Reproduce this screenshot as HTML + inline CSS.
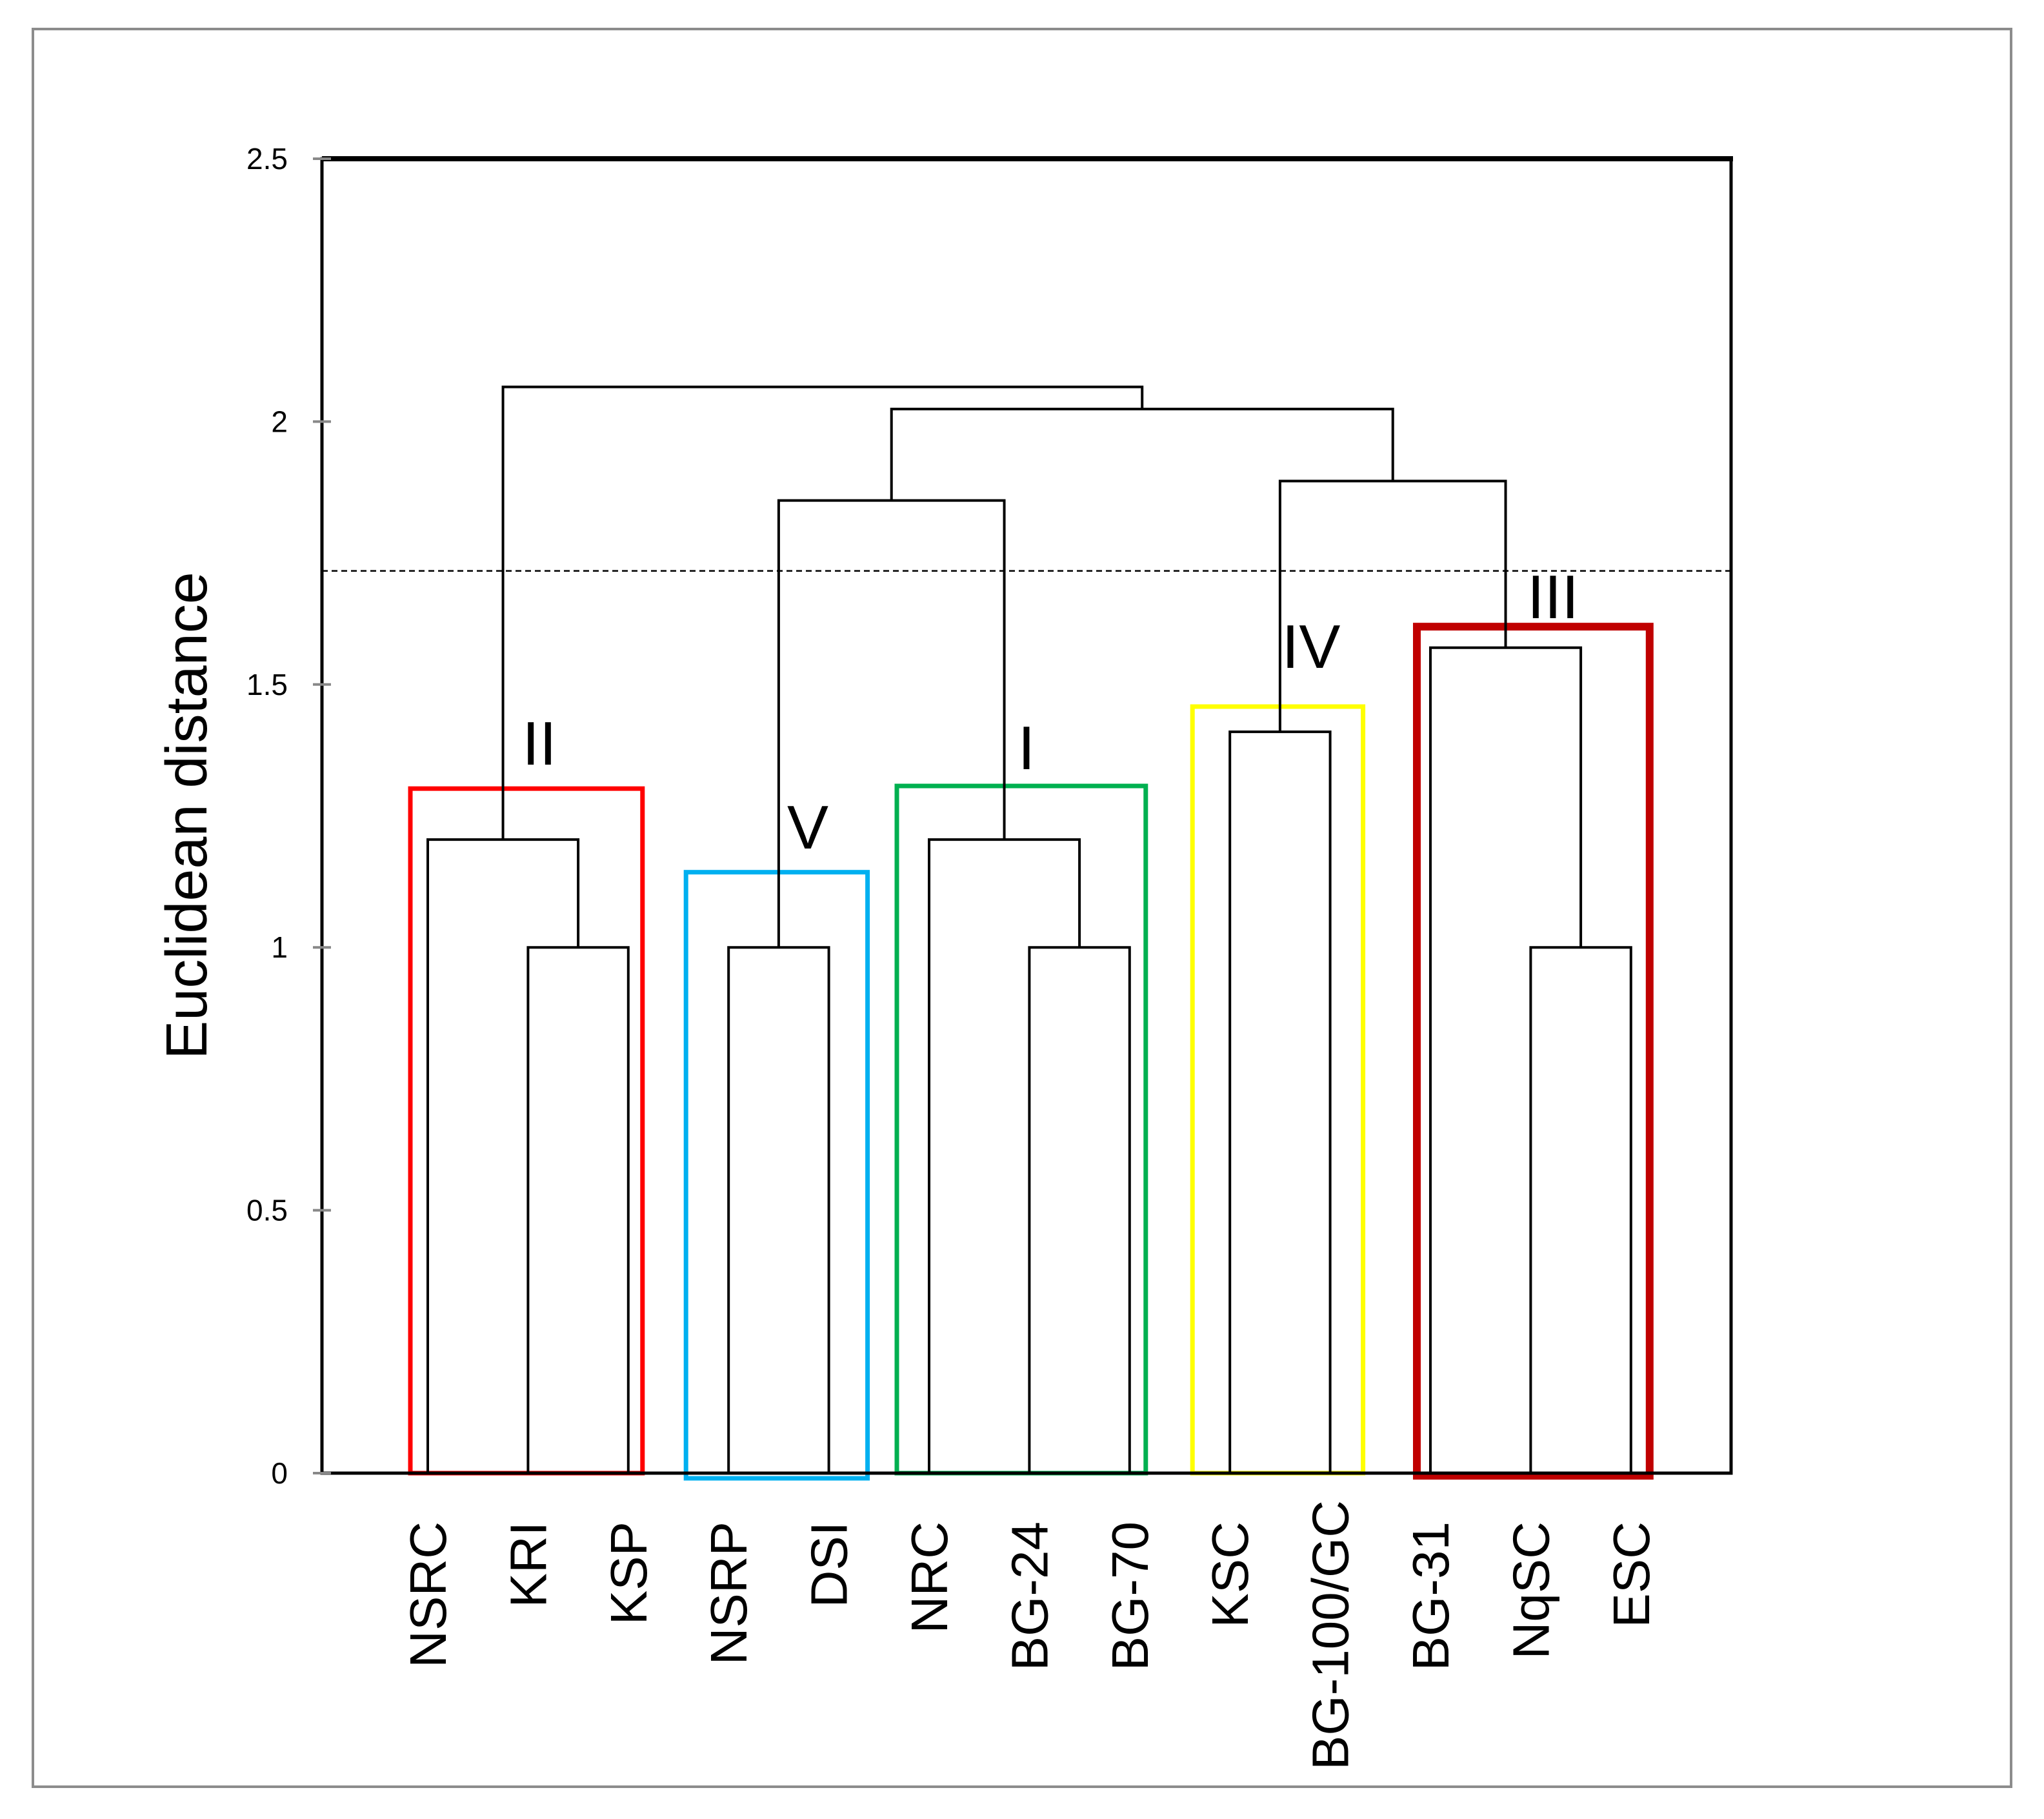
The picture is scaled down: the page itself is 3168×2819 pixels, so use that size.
<!DOCTYPE html>
<html><head><meta charset="utf-8"><style>
html,body{margin:0;padding:0;background:#fff;}
svg{display:block;font-family:"Liberation Sans",sans-serif;}
</style></head><body>
<svg id="chart" width="3168" height="2819" viewBox="0 0 3168 2819">
<rect x="51" y="45" width="3066" height="2724" fill="none" stroke="#8c8c8c" stroke-width="4"/>
<g id="boxes"></g>
<g id="links"></g>
<g id="axes"></g>
<g id="labels"></g>
</svg>
<script>
const leafNames = ["NSRC","KRI","KSP","NSRP","DSI","NRC","BG-24","BG-70","KSC","BG-100/GC","BG-31","NqSC","ESC"];
const mergeLeft = ["L1","L0","L3","L6","L5","L8","L11","L10","C2","C5","C8","C1"];
const mergeRight = ["L2","C0","L4","L7","C3","L9","L12","C6","C4","C7","C9","C10"];
const mergeHeights = [1.0,1.205,1.0,1.0,1.205,1.41,1.0,1.57,1.85,1.887,2.024,2.066];
const yTicks = [0,0.5,1,1.5,2,2.5];
const yTickLabels = ["0","0.5","1","1.5","2","2.5"];
const cutHeight = 1.716;
const groupNames = ["II","V","I","IV","III"];
const groupFirstLeaf = [0,3,5,8,10];
const groupLastLeaf = [2,4,7,9,12];
const groupTop = [1.302,1.143,1.307,1.458,1.61];
const groupColors = ["#ff0000","#00b0f0","#00b050","#ffff00","#c00000"];

const NS="http://www.w3.org/2000/svg";
const X0=499,X1=2683,YT=246,YB=2283,VMAX=2.5;
function y(v){return YB-(v/VMAX)*(YB-YT);}
function x(i){return 663+i*155.4;}
function mk(tag,attrs,parent){const e=document.createElementNS(NS,tag);for(const k in attrs)e.setAttribute(k,attrs[k]);parent.appendChild(e);return e;}
const gB=document.getElementById('boxes'),gL=document.getElementById('links'),gA=document.getElementById('axes'),gT=document.getElementById('labels');

let fr=mk('rect',{x:X0,y:YT,width:X1-X0,height:YB-YT,fill:'none',stroke:'#000','stroke-width':5},gA);


let ft=mk('line',{x1:X0,x2:X1+3,y1:YT,y2:YT,stroke:'#000','stroke-width':8},gA);


yTicks.forEach((t,i)=>{
  const tk=mk('line',{x1:X0-14,x2:X0+14,y1:y(t),y2:y(t),stroke:'#888','stroke-width':4},gA);
  
  
  const tl=mk('text',{x:446,y:y(t)+16,'text-anchor':'end','font-size':46,fill:'#000'},gA);
  tl.textContent=yTickLabels[i];
  
  
});
const yt=mk('text',{x:0,y:0,'text-anchor':'middle','font-size':90,fill:'#000',transform:'translate(320,1264) rotate(-90)'},gA);
yt.textContent='Euclidean distance';



const cl=mk('line',{x1:X0,x2:X1,y1:y(cutHeight),y2:y(cutHeight),stroke:'#000','stroke-width':2.5,'stroke-dasharray':'9,6'},gA);



const nodeX={},nodeH={};
leafNames.forEach((n,i)=>{nodeX['L'+i]=x(i);nodeH['L'+i]=0;});
mergeHeights.forEach((h,i)=>{
  const a=mergeLeft[i],b=mergeRight[i];
  const xa=nodeX[a],xb=nodeX[b],yh=y(h);
  const p=mk('path',{d:`M${xa},${y(nodeH[a])}V${yh}H${xb}V${y(nodeH[b])}`,fill:'none',stroke:'#000','stroke-width':4},gL);
  
  
  nodeX['C'+i]=(xa+xb)/2;nodeH['C'+i]=h;
});

leafNames.forEach((n,i)=>{
  const top = n.length>7 ? 2325 : 2358;
  const t=mk('text',{x:0,y:0,'text-anchor':'end','font-size':80,fill:'#000',transform:`translate(${x(i)+28},${top}) rotate(-90)`},gT);
  t.textContent=n;
  
  
});

const padL=[27,66,50,58,21],padR=[22,60,25,51,29],sw=[7,7,7,7,12];
groupNames.forEach((g,i)=>{
  const l=x(groupFirstLeaf[i])-padL[i],r=x(groupLastLeaf[i])+padR[i];
  const top=y(groupTop[i]);
  const bot=i===1?YB+8:(i===4?YB+4:YB);
  const rc=mk('rect',{x:l,y:top,width:r-l,height:bot-top,fill:'none',stroke:groupColors[i],'stroke-width':sw[i]},gB);
  
  
});
const lblX=[836,1252,1591,2032,2407],lblY=[1185,1315,1192,1035,958];
groupNames.forEach((g,i)=>{
  const t=mk('text',{x:lblX[i],y:lblY[i],'text-anchor':'middle','font-size':96,fill:'#000'},gT);
  t.textContent=g;
  
  
});
</script>
</body></html>
